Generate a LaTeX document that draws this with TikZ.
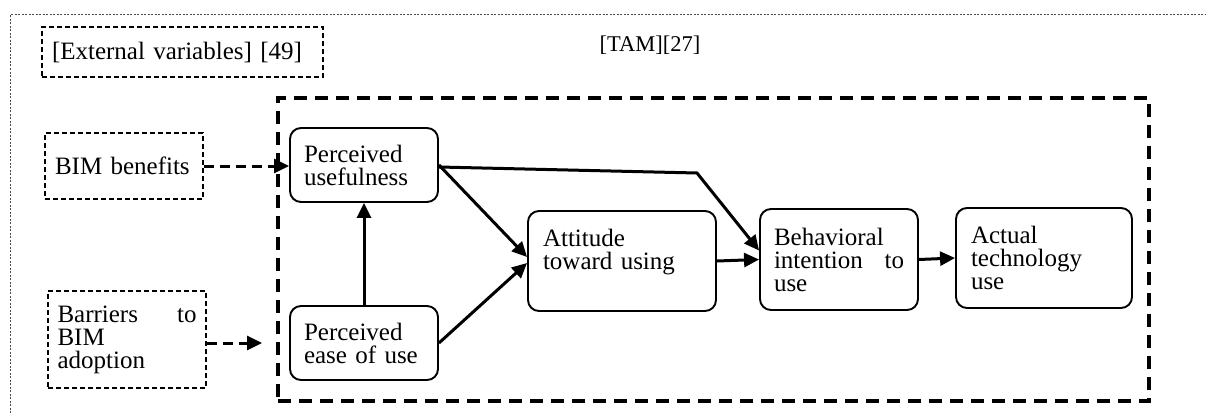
\documentclass[tikz,border=0pt]{standalone}
\usepackage{fontspec}
\setmainfont{Liberation Serif}
\usetikzlibrary{arrows.meta}
\begin{document}
\begin{tikzpicture}[x=1pt,y=-1pt,
  txt/.style={font=\fontsize{25}{23}\selectfont},
  box/.style={txt, draw, line width=1.9pt, rounded corners=11pt, align=left, inner sep=0pt},
  ext/.style={txt, draw, line width=1.4pt, dash pattern=on 5pt off 3pt, inner sep=0pt, align=left},
  arr/.style={line width=3pt, -{Triangle[length=15pt,width=14pt]}},
  darr/.style={arr, dash pattern=on 10pt off 6pt},
  outer/.style={draw=black!70, line width=1pt, dash pattern=on 2pt off 1.5pt},
  tambox/.style={draw, line width=3.6pt, dash pattern=on 13pt off 8pt, inner sep=0pt}
]
\useasboundingbox (0,0) rectangle (1206,412);
% outer dotted frame (only top and left visible)
\draw[outer] (10,420) -- (10,15) -- (1212,15);

% TAM frame
\node[tambox, minimum width=871pt, minimum height=303pt] (tam) at (713.5,249.5) {};
\node[font=\fontsize{22.5}{24}\selectfont] (tamlabel) at (650,45) {[TAM][27]};

% external variables
\node[ext, minimum width=281pt, minimum height=50pt, text width=261pt] (extv) at (182.5,52) {[External variables] [49]};
\node[ext, minimum width=158pt, minimum height=66pt, text width=138pt] (bim) at (124,166) {BIM benefits};
\node[ext, minimum width=158pt, minimum height=97pt, text width=139pt] (bar) at (127,339.5) {Barriers\hfill to\\BIM\\adoption};

% TAM boxes
\node[box, minimum width=148pt, minimum height=74pt, text width=120pt] (pu) at (364,165) {Perceived\\usefulness};
\node[box, minimum width=148pt, minimum height=74pt, text width=120pt] (peou) at (364,343) {Perceived\\ease of use};
\node[box, minimum width=188pt, minimum height=100pt, text width=158pt] (att) at (622,261) {Attitude\\toward using\\\mbox{}};
\node[box, minimum width=158pt, minimum height=101pt, text width=130pt] (beh) at (839,259.5) {Behavioral\\intention\hfill to\\use};
\node[box, minimum width=176pt, minimum height=100pt, text width=146pt] (act) at (1044,258) {Actual\\technology\\use};

% connectors
\coordinate (barend) at (262,343);
\coordinate (kink) at (697,173);
\draw[darr] (bim.east) -- (pu.west |- bim.east);
\draw[darr] (bar.east |- barend) -- (barend);
\draw[arr] (peou.north) -- (pu.south);
\draw[arr] (pu.east) -- ([yshift=4pt]att.west);
\draw[arr] (peou.east) -- ([yshift=-2pt]att.west);
\draw[arr] ([yshift=-2pt]pu.east) -- (kink) -- ([yshift=9pt]beh.west);
\draw[arr] (att.east) -- (beh.west);
\draw[arr] (beh.east) -- (act.west);
\end{tikzpicture}
\end{document}
